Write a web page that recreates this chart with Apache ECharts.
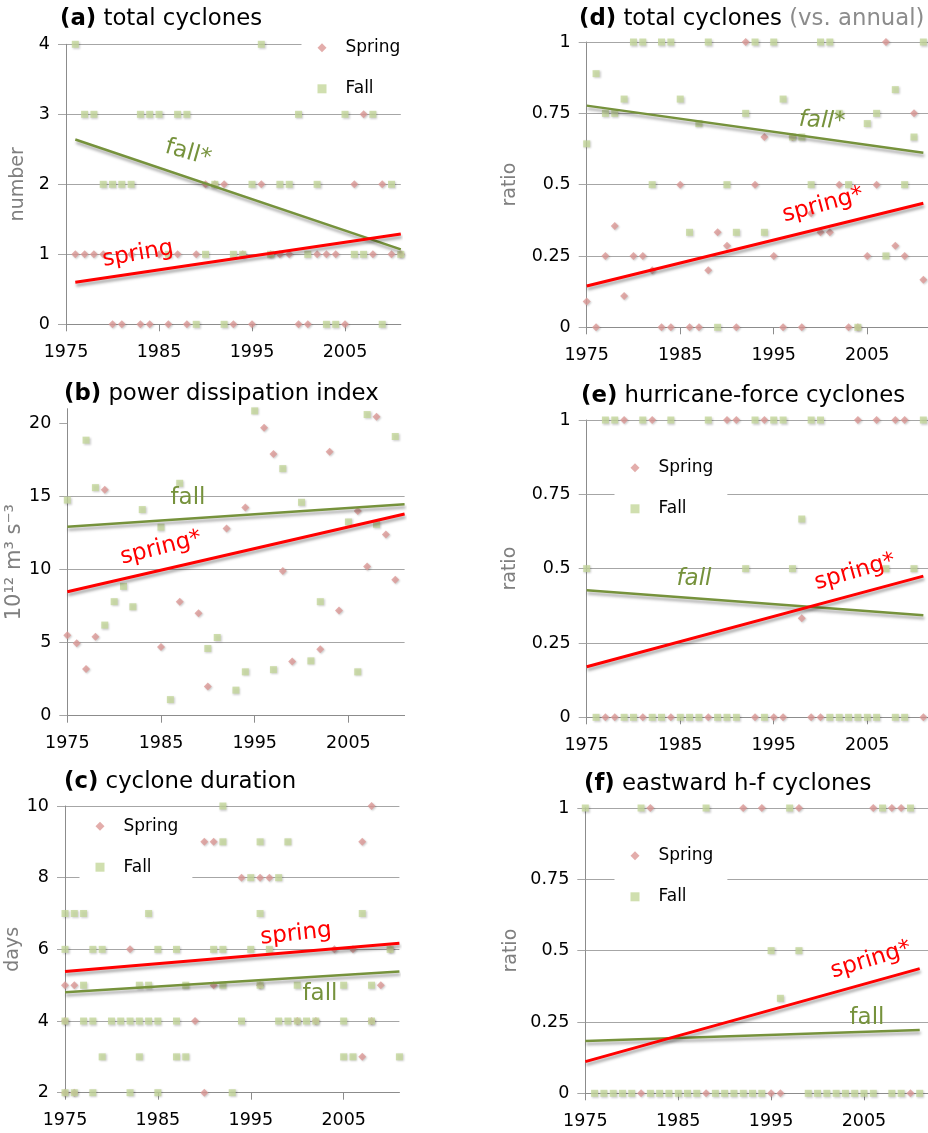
<!DOCTYPE html>
<html>
<head>
<meta charset="utf-8">
<script src="https://cdn.jsdelivr.net/npm/echarts@6/dist/echarts.min.js"></script>
<style>
  html, body { margin: 0; padding: 0; background: #fff; }
  #chart { width: 928px; height: 1133px; }
</style>
</head>
<body>
<div id="chart"></div>
<script>
// ---- data -------------------------------------------------------------
const years = [1975,1976,1977,1978,1979,1980,1981,1982,1983,1984,1985,1986,1987,1988,1989,
  1990,1991,1992,1993,1994,1995,1996,1997,1998,1999,2000,2001,2002,2003,2004,2005,2006,2007,
  2008,2009,2010,2011];
const xTickLabels = [1975, 1985, 1995, 2005];

// (a) total cyclones (number per season)
const aSpring = [null,1,1,1,1,0,0,1,0,0,1,0,1,0,1,2,2,2,0,1,0,2,1,1,1,0,0,1,1,1,0,2,3,1,2,1,1];
const aFall   = [null,4,3,3,2,2,2,2,3,3,3,1,3,3,0,1,2,0,1,1,2,4,1,2,2,3,1,2,0,0,3,1,1,3,0,2,1];
const aSpringTrend = [[1976, 0.6], [2011, 1.29]];
const aFallTrend   = [[1976, 2.64], [2011, 1.07]];

// (b) power dissipation index (10^12 m^3 s^-3)
const bSpring = [5.5,4.95,3.2,5.4,15.45,null,null,null,null,null,4.7,null,7.8,null,7.0,2.0,null,12.8,
  null,14.25,null,19.7,17.9,9.9,3.7,null,null,4.55,18.05,7.2,null,14.0,10.2,20.45,12.4,9.3,null];
const bFall = [14.75,null,18.85,15.6,6.2,7.8,8.85,7.45,14.1,null,12.9,1.1,15.9,null,null,4.6,5.35,null,
  1.75,3.0,20.85,null,3.15,16.9,null,14.6,3.75,7.8,null,null,13.25,3.0,20.6,13.1,null,19.1,null];
const bSpringTrend = [[1975, 8.48], [2011, 13.8]];
const bFallTrend   = [[1975, 12.93], [2011, 14.46]];
const bTickLabels = [0, 5, 10, 15, 20];

// (c) cyclone duration, one point per cyclone: [year, days]
const cSpring = [[1975,5],[1976,5],[1975,4],[1975,2],[1976,2],[1982,6],[1989,4],[1990,9],[1990,2],
  [1991,9],[1991,5],[1994,8],[1996,8],[1996,5],[1997,8],[2000,4],[2002,4],[2004,6],[2006,6],[2007,9],
  [2007,3],[2008,10],[2008,4],[2009,5],[2010,6]];
const cFall = [[1975,7],[1975,6],[1975,4],[1975,2],[1976,7],[1976,2],[1977,7],[1977,5],[1977,4],
  [1978,6],[1978,4],[1978,2],[1979,6],[1979,3],[1980,4],[1981,4],[1982,4],[1982,2],[1983,5],[1983,4],
  [1983,3],[1984,7],[1984,5],[1984,4],[1985,6],[1985,4],[1985,2],[1987,6],[1987,4],[1987,3],[1988,5],
  [1988,3],[1991,6],[1992,10],[1992,9],[1992,6],[1992,5],[1993,2],[1994,4],[1995,8],[1995,6],[1996,9],
  [1996,7],[1996,5],[1997,6],[1998,8],[1998,4],[1999,9],[1999,4],[2000,5],[2000,4],[2001,4],[2002,4],
  [2005,5],[2005,4],[2005,3],[2006,3],[2007,7],[2008,5],[2008,4],[2010,6],[2011,3]];
const cSpringTrend = [[1975, 5.38], [2011, 6.17]];
const cFallTrend   = [[1975, 4.8], [2011, 5.38]];

// (d) total cyclones, ratio to annual count
const dSpring = [0.09,0,0.25,0.355,0.11,0.25,0.25,0.2,0,0,0.5,0,0,0.2,0.333,0.286,0,1,0.5,0.667,0.25,
  0,0.667,0,0.4,0.333,0.333,0.5,0,0,0.25,0.5,1,0.286,0.25,0.75,0.167];
const dFall = [0.643,0.889,0.75,0.75,0.8,1,1,0.5,1,1,0.8,0.333,0.714,1,0,0.5,0.333,0.75,1,0.333,1,0.8,
  0.667,0.667,0.5,1,1,0.75,0.5,0,0.714,0.75,0.25,0.833,0.5,0.667,1];
const dSpringTrend = [[1975, 0.145], [2011, 0.435]];
const dFallTrend   = [[1975, 0.777], [2011, 0.612]];

// (e) hurricane-force cyclones, ratio
const eSpring = [null,null,0,0,1,null,0,1,null,0,null,null,null,0,null,1,1,null,0,1,0,0,null,0.333,0,0,
  null,null,null,1,null,1,null,1,1,null,0];
const eFall = [0.5,0,1,1,0,0,1,0,0,1,0,0,0,1,0,0,0,0.5,1,0,1,1,0.5,0.667,1,1,0,0,0,0,0,0,0.5,0,0,0.5,1];
const eSpringTrend = [[1975, 0.17], [2011, 0.475]];
const eFallTrend   = [[1975, 0.427], [2011, 0.343]];

// (f) eastward hurricane-force cyclones, ratio
const fSpring = [null,null,null,null,null,null,0,1,null,null,null,null,null,0,null,null,null,1,null,1,0,0,
  null,1,null,null,null,null,null,null,null,1,null,1,1,0,null];
const fFall = [1,0,0,0,0,0,1,0,0,0,0,0,0,1,0,0,0,0,0,0,0.5,0.333,1,0.5,0,0,0,0,0,0,0,0,1,0,0,1,0];
const fSpringTrend = [[1975, 0.111], [2011, 0.437]];
const fFallTrend   = [[1975, 0.183], [2011, 0.222]];

// ---- styling ----------------------------------------------------------
const FONT = 'DejaVu Sans';
const SPRING_PT = '#DC9896', FALL_PT = '#C4D79B';
const SPRING_LINE = '#FF0000', FALL_LINE = '#76923C';
const GRID_C = '#a6a6a6', AXIS_C = '#8c8c8c';
const TITLE_SIZE = 22.8;

function byYear(vals) {
  return years.map((y, i) => vals[i] == null ? null : [y, vals[i]]).filter(Boolean);
}

const panels = [
  { id: 'a', title: '{b|(a)} total cyclones', tl: [60, 8],
    grid: { left: 66, top: 44.3, width: 334.8, height: 280 }, xMax: 2011,
    y: { min: 0, max: 4, interval: 1 }, yName: 'number', nameGap: 38, nameSize: 19,
    spring: byYear(aSpring), fall: byYear(aFall), st: aSpringTrend, ft: aFallTrend,
    legend: [301.5, 29.3] },
  { id: 'b', title: '{b|(b)} power dissipation index', tl: [64, 383],
    grid: { left: 67.3, top: 408.7, width: 337.3, height: 307 }, xMax: 2011,
    y: { min: 0, max: 21, interval: 5, custom: bTickLabels }, yName: '10¹² m³ s⁻³', nameGap: 37, nameSize: 21,
    spring: byYear(bSpring), fall: byYear(bFall), st: bSpringTrend, ft: bFallTrend },
  { id: 'c', title: '{b|(c)} cyclone duration', tl: [64, 771],
    grid: { left: 65, top: 806, width: 334.4, height: 286.7 }, xMax: 2011,
    y: { min: 2, max: 10, interval: 2 }, yName: 'days', nameGap: 37, nameSize: 19,
    spring: cSpring, fall: cFall, st: cSpringTrend, ft: cFallTrend,
    legend: [79.5, 807.7] },
  { id: 'd', title: '{b|(d)} total cyclones{g| (vs. annual)}', tl: [579, 8],
    grid: { left: 586.7, top: 42, width: 346, height: 285.3 }, xMax: 2012,
    y: { min: 0, max: 1, interval: 0.25 }, yName: 'ratio', nameGap: 67, nameSize: 19,
    spring: byYear(dSpring), fall: byYear(dFall), st: dSpringTrend, ft: dFallTrend },
  { id: 'e', title: '{b|(e)} hurricane-force cyclones', tl: [581, 385],
    grid: { left: 586.7, top: 420, width: 346, height: 297.3 }, xMax: 2012,
    y: { min: 0, max: 1, interval: 0.25 }, yName: 'ratio', nameGap: 67, nameSize: 19,
    spring: byYear(eSpring), fall: byYear(eFall), st: eSpringTrend, ft: eFallTrend,
    legend: [614.5, 449.3] },
  { id: 'f', title: '{b|(f)} eastward h-f cyclones', tl: [584, 773],
    grid: { left: 585.3, top: 808, width: 343.7, height: 285.3 }, xMax: 2012,
    y: { min: 0, max: 1, interval: 0.25 }, yName: 'ratio', nameGap: 65, nameSize: 19,
    spring: byYear(fSpring), fall: byYear(fFall), st: fSpringTrend, ft: fFallTrend,
    legend: [614.5, 837.3] }
];

const option = {
  animation: false,
  textStyle: { fontFamily: FONT },
  title: [], grid: [], xAxis: [], yAxis: [], series: [], legend: [], graphic: []
};

panels.forEach((p, i) => {
  option.title.push({
    text: p.title, left: p.tl[0], top: p.tl[1], padding: 0,
    textStyle: {
      fontFamily: FONT, fontSize: TITLE_SIZE, fontWeight: 'normal', color: '#000',
      rich: {
        b: { fontFamily: FONT, fontSize: TITLE_SIZE, fontWeight: 'bold', color: '#000' },
        g: { fontFamily: FONT, fontSize: TITLE_SIZE, color: '#8c8c8c' }
      }
    }
  });
  option.grid.push(Object.assign({ containLabel: false, outerBoundsMode: 'none' }, p.grid));
  option.xAxis.push({
    gridIndex: i, type: 'value', min: 1975, max: p.xMax, interval: 10,
    axisLine: { show: true, onZero: false, lineStyle: { color: AXIS_C, width: 1 } },
    axisTick: { show: true, length: 7, customValues: xTickLabels, lineStyle: { color: AXIS_C } },
    axisLabel: { customValues: xTickLabels, margin: 19, fontSize: 17.5, color: '#000', fontFamily: FONT,
      formatter: v => String(v) },
    splitLine: { show: false }
  });
  const yLab = { margin: 16, fontSize: 17.5, color: '#000', fontFamily: FONT };
  const yTick = { show: true, length: 8, lineStyle: { color: GRID_C } };
  if (p.y.custom) { yLab.customValues = p.y.custom; yTick.customValues = p.y.custom; }
  option.yAxis.push({
    gridIndex: i, type: 'value', min: p.y.min, max: p.y.max, interval: p.y.interval,
    axisLine: { show: true, lineStyle: { color: AXIS_C, width: 1 } },
    axisTick: yTick, axisLabel: yLab,
    splitLine: { show: true, showMaxLine: !p.y.custom, lineStyle: { color: GRID_C, width: 1 } },
    name: p.yName, nameLocation: 'middle', nameGap: p.nameGap, nameRotate: 90,
    nameTextStyle: { color: '#7f7f7f', fontSize: p.nameSize, fontFamily: FONT }
  });
  const ptShadow = { shadowBlur: 2, shadowColor: 'rgba(0,0,0,0.25)', shadowOffsetX: 1, shadowOffsetY: 1 };
  option.series.push({
    name: 'Spring', type: 'scatter', xAxisIndex: i, yAxisIndex: i, data: p.spring,
    symbol: 'diamond', symbolSize: 8, clip: false, z: 2,
    itemStyle: Object.assign({ color: SPRING_PT }, ptShadow)
  });
  option.series.push({
    name: 'Fall', type: 'scatter', xAxisIndex: i, yAxisIndex: i, data: p.fall,
    symbol: 'rect', symbolSize: 7, clip: false, z: 3,
    itemStyle: Object.assign({ color: FALL_PT }, ptShadow)
  });
  const lineShadow = { shadowBlur: 3, shadowColor: 'rgba(0,0,0,0.35)', shadowOffsetX: 1, shadowOffsetY: 3 };
  option.series.push({
    name: 'fall trend', type: 'line', xAxisIndex: i, yAxisIndex: i, data: p.ft,
    showSymbol: false, symbol: 'none', z: 4, silent: true,
    lineStyle: Object.assign({ color: FALL_LINE, width: 2.5 }, lineShadow)
  });
  option.series.push({
    name: 'spring trend', type: 'line', xAxisIndex: i, yAxisIndex: i, data: p.st,
    showSymbol: false, symbol: 'none', z: 5, silent: true,
    lineStyle: Object.assign({ color: SPRING_LINE, width: 3 }, lineShadow)
  });
  if (p.legend) {
    option.legend.push({
      orient: 'vertical', left: p.legend[0], top: p.legend[1],
      itemWidth: 9, itemHeight: 9, itemGap: 24, selectedMode: false,
      backgroundColor: '#fff', padding: [10, 14, 10, 16], z: 6,
      textStyle: { fontSize: 17, color: '#000', fontFamily: FONT, padding: [0, 0, 0, 14] },
      data: [{ name: 'Spring', icon: 'diamond' }, { name: 'Fall', icon: 'rect' }]
    });
  }
});

// trend-line annotations
const deg = Math.PI / 180;
function note(text, x, y, rot, color, italic) {
  return {
    type: 'text', x: x, y: y, rotation: rot * deg, z: 50, silent: true,
    style: {
      text: text, fill: color, align: 'center', verticalAlign: 'middle',
      font: (italic ? 'italic ' : '') + '23px "' + FONT + '"'
    }
  };
}
option.graphic = [
  note('fall*', 188, 153, -16, FALL_LINE, false),
  note('spring', 138, 254, 10, SPRING_LINE, false),
  note('fall', 188, 498, 0, FALL_LINE, false),
  note('spring*', 161, 548, 14, SPRING_LINE, false),
  note('spring', 296, 934, 6, SPRING_LINE, false),
  note('fall', 320, 994, 0, FALL_LINE, false),
  note('fall*', 822, 121, -3, FALL_LINE, true),
  note('spring*', 823, 205, 15, SPRING_LINE, false),
  note('fall', 694, 579, 0, FALL_LINE, true),
  note('spring*', 855, 572, 16, SPRING_LINE, false),
  note('spring*', 871, 960, 17, SPRING_LINE, false),
  note('fall', 867, 1018, 0, FALL_LINE, false)
];

const chart = echarts.init(document.getElementById('chart'), null, { renderer: 'canvas' });
chart.setOption(option);
</script>
</body>
</html>
